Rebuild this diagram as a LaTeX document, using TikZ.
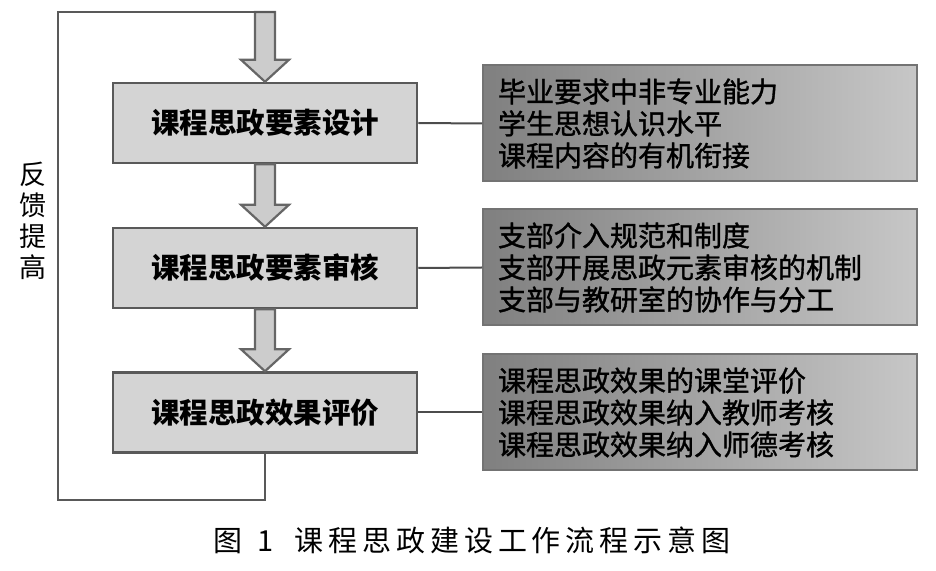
\documentclass[tikz,border=0pt]{standalone}
\usepackage{fontspec}
\setmainfont{Noto Sans CJK SC}
\newfontfamily\capfont[LetterSpace=17]{Noto Sans CJK SC}
\newfontfamily\notefont[FakeBold=1.2]{Noto Sans CJK SC}
\usepackage{tikz}
\usetikzlibrary{positioning,calc}

% block arrow between two anchors
\newcommand{\flowarrow}[2]{%
	\draw[bigarrow] ($(#1)+(-10,0)$) -- ($(#2)+(-10,22)$) -- ($(#2)+(-24,22)$) -- (#2)
		-- ($(#2)+(24,22)$) -- ($(#2)+(10,22)$) -- ($(#1)+(10,0)$) -- cycle;}

\tikzset{
	stepbox/.style={draw=black!65,line width=2.5pt,fill=black!17,minimum width=304pt,minimum height=80pt,
		font=\fontsize{28.5}{32}\selectfont\bfseries},
	notebox/.style={draw=black!55,line width=2pt,left color=black!50,right color=black!22,
		minimum width=434pt,minimum height=116pt,text width=404pt,inner xsep=15pt,align=left,
		font=\notefont\fontsize{28}{32}\selectfont},
	bigarrow/.style={draw=black!60,line width=2.2pt,fill=black!20,line join=miter},
	loopline/.style={draw=black!65,line width=2.5pt},
	linkline/.style={draw=black!70,line width=2pt}
}

\begin{document}
\begin{tikzpicture}[x=1pt,y=1pt]
	\useasboundingbox (0,0) rectangle (936,570);
	\coordinate (top) at (265,558);
	\coordinate (corner) at (58,558);

	\node[stepbox] (b1) at (265,447) {课程思政要素设计};
	\node[stepbox] (b2) at (265,302) {课程思政要素审核};
	\node[stepbox] (b3) at (265,157.5) {课程思政效果评价};

	\node[notebox] (n1) at (700,446.5) {毕业要求中非专业能力\\学生思想认识水平\\课程内容的有机衔接};
	\node[notebox] (n2) at (700,302.5) {支部介入规范和制度\\支部开展思政元素审核的机制\\支部与教研室的协作与分工};
	\node[notebox] (n3) at (700,157.5) {课程思政效果的课堂评价\\课程思政效果纳入教师考核\\课程思政效果纳入师德考核};

	\flowarrow{top}{b1.north}
	\flowarrow{b1.south}{b2.north}
	\flowarrow{b2.south}{b3.north}

	% feedback loop
	\draw[loopline] (b3.south) -- ++(0,-46) -| (corner) -- ($(top)+(10,0)$);
	\node[align=center,font=\fontsize{27}{31}\selectfont] (fb) at (33,349) {反\\馈\\提\\高};

	\draw[linkline] (b1.east) -- (n1.west);
	\draw[linkline] (b2.east) -- (n2.west);
	\draw[linkline] (b3.east) -- (n3.west);

	\node[font=\capfont\fontsize{29}{34}\selectfont] (cap) at (472,30) {图\hspace{15pt}1\hspace{21pt}课程思政建设工作流程示意图};
\end{tikzpicture}
\end{document}
